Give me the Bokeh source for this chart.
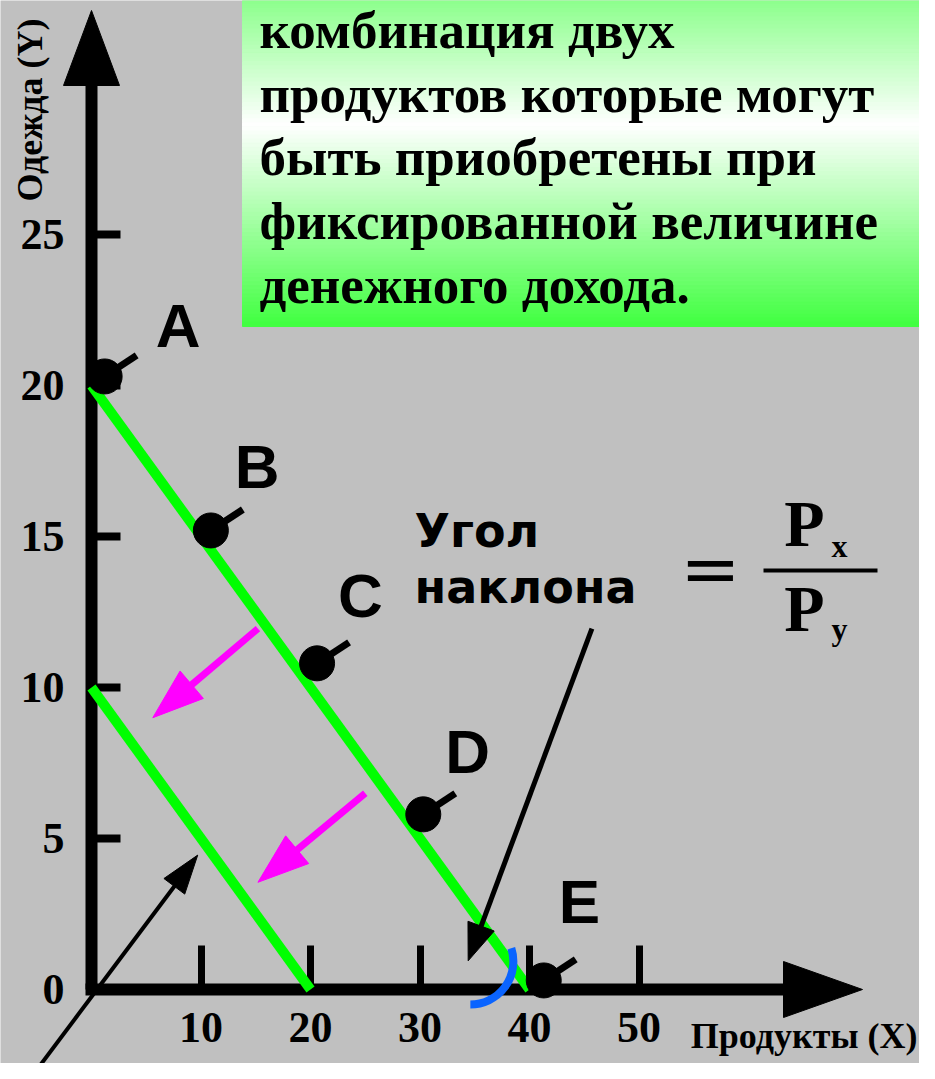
import math
from bokeh.plotting import figure
from bokeh.models import Range1d, LinearAxis, FixedTicker
from bokeh.core.properties import value
from bokeh.embed import file_html
from bokeh.resources import INLINE

# ---------------- data ----------------
budget_y_intercept = [20, 10]          # Одежда (Y) when whole income is spent on Y
budget_x_intercept = [40, 20]          # Продукты (X) when whole income is spent on X
point_labels = ["A", "B", "C", "D", "E"]
point_x = [1.2, 10.9, 20.6, 30.3, 41.3]
point_y = [20.3, 15.2, 10.8, 5.8, 0.3]
x_ticks = [10, 20, 30, 40, 50]
y_ticks = [0, 5, 10, 15, 20, 25]
x_title = "Продукты (X)"
y_title = "Одежда (Y)"
note_lines = ["комбинация двух", "продуктов которые могут",
              "быть приобретены при", "фиксированной величине",
              "денежного дохода."]
slope_lines = ["Угол", "наклона"]
# shift arrows of the budget line (start -> tip), data units
shift_x0 = [15.2, 25.0]
shift_y0 = [11.95, 6.5]
shift_x1 = [5.6, 15.2]
shift_y1 = [9.0, 3.55]
# income growth arrow and slope pointer (start -> tip), data units
growth_arrow = (-5.6, -2.95, 9.7, 4.45)
slope_arrow = (45.7, 11.95, 34.4, 0.95)
angle_mark = (34.6, 0.93)

# ---------------- layout helpers (reference page pixels) ----------------
W, H, OFF = 919, 1063, 0
X0, SX = 91.0, 10.95
Y0, SY = 989.0, 30.2
BL = 0.36   # baseline correction (fraction of the font size)


def to_dx(px):
    return (px - X0) / SX


def to_dy(py):
    return (Y0 - py) / SY


def to_px(x):
    return X0 + x * SX


def to_py(y):
    return Y0 - y * SY


def base_y(py, size):
    return to_dy(py - BL * size)


p = figure(width=W, height=H,
           x_range=Range1d(to_dx(OFF), to_dx(OFF + W)),
           y_range=Range1d(to_dy(OFF + H), to_dy(OFF)),
           output_backend="svg", toolbar_location=None, min_border=0,
           x_axis_type=None, y_axis_type=None)
p.background_fill_color = "#c0c0c0"
p.border_fill_color = "#c0c0c0"
p.outline_line_color = None
p.grid.visible = False

# ---------------- gradient note box ----------------
bl, br, bt, bb = 242, 931, 0, 326
stops = [(0, (140, 255, 140)), (125, (255, 255, 255)), (326, (64, 255, 64))]


def grad(py):
    for (a, ca), (b, cb) in zip(stops[:-1], stops[1:]):
        if a <= py <= b:
            t = (py - a) / (b - a)
            c = [round(ca[i] + (cb[i] - ca[i]) * t) for i in range(3)]
            return "#%02x%02x%02x" % tuple(c)
    return "#40ff40"


N = 80
hstep = (bb - bt) / N
tops = [to_dy(bt + i * hstep) for i in range(N)]
bots = [to_dy(bt + (i + 1) * hstep) for i in range(N)]
cols = [grad(bt + (i + 0.5) * hstep) for i in range(N)]
p.quad(left=[to_dx(bl)] * N, right=[to_dx(br)] * N, top=tops, bottom=bots,
       fill_color=cols, line_color=cols, line_width=1)

note_base = [49, 113, 176, 240, 304]
NS = 53
p.text(x=[to_dx(259)] * len(note_lines), y=[base_y(b, NS) for b in note_base],
       text=note_lines, text_font=value("Liberation Serif"),
       text_font_style="bold", text_font_size=f"{NS}px", text_color="black",
       text_align="left", text_baseline="alphabetic")

# ---------------- axes ----------------
label_font = dict(major_label_text_font="Liberation Serif",
                  major_label_text_font_style="bold",
                  major_label_text_font_size="44px",
                  major_label_text_color="black")
xaxis = LinearAxis(fixed_location=0, ticker=FixedTicker(ticks=x_ticks),
                   bounds=(to_dx(85), to_dx(785)),
                   axis_line_width=12, axis_line_color="black",
                   major_tick_in=44, major_tick_out=0, major_tick_line_width=7,
                   minor_tick_in=0, minor_tick_out=0,
                   major_label_standoff=23, level="underlay", **label_font)
yaxis = LinearAxis(fixed_location=0, ticker=FixedTicker(ticks=y_ticks),
                   bounds=(0, to_dy(84)),
                   axis_line_width=12, axis_line_color="black",
                   major_tick_in=29, major_tick_out=0, major_tick_line_width=8,
                   minor_tick_in=0, minor_tick_out=0,
                   major_label_standoff=27, level="underlay", **label_font)
p.add_layout(xaxis, "below")
p.add_layout(yaxis, "left")

# axis arrowheads
p.patches(xs=[[to_dx(91), to_dx(63), to_dx(119)], [to_dx(862), to_dx(783), to_dx(783)]],
          ys=[[to_dy(10), to_dy(85), to_dy(85)], [to_dy(989), to_dy(961), to_dy(1017)]],
          fill_color="black", line_color="black", line_width=1)

# axis titles
TS = 36
p.text(x=[to_dx(917)], y=[base_y(1048, TS)], text=[x_title],
       text_font=value("Liberation Serif"), text_font_style="bold",
       text_font_size=f"{TS}px", text_color="black", text_align="right",
       text_baseline="alphabetic")
p.text(x=[to_dx(42 - BL * TS)], y=[to_dy(201)], text=[y_title], angle=math.pi / 2,
       text_font=value("Liberation Serif"), text_font_style="bold",
       text_font_size=f"{TS}px", text_color="black", text_align="left",
       text_baseline="alphabetic")

# ---------------- budget lines ----------------
p.segment(x0=[0] * len(budget_y_intercept), y0=budget_y_intercept,
          x1=budget_x_intercept, y1=[0] * len(budget_x_intercept),
          line_color="#00ff00", line_width=10)


# ---------------- arrows ----------------
def arrow(x0, y0, x1, y1, color, lw, hl, hw):
    px0, py0, px1, py1 = to_px(x0), to_py(y0), to_px(x1), to_py(y1)
    L = math.hypot(px1 - px0, py1 - py0)
    ux, uy = (px1 - px0) / L, (py1 - py0) / L
    bx, by = px1 - ux * hl, py1 - uy * hl
    nx, ny = -uy, ux
    p.segment(x0=[x0], y0=[y0], x1=[to_dx(bx + ux * 2)], y1=[to_dy(by + uy * 2)],
              line_color=color, line_width=lw)
    p.patch(x=[x1, to_dx(bx + nx * hw), to_dx(bx - nx * hw)],
            y=[y1, to_dy(by + ny * hw), to_dy(by - ny * hw)],
            fill_color=color, line_color=color, line_width=1)


for a, b, c, d in zip(shift_x0, shift_y0, shift_x1, shift_y1):
    arrow(a, b, c, d, "#ff00ff", 7, 51, 18)
arrow(*growth_arrow, "black", 4, 39, 13)
arrow(*slope_arrow, "black", 5, 37, 14)

# slope angle mark
p.arc(x=[angle_mark[0]], y=[angle_mark[1]], radius=43, radius_units="screen",
      start_angle=-math.pi / 2, end_angle=0.31, direction="anticlock",
      line_color="#0a64ff", line_width=8)

# ---------------- consumption points ----------------
p.segment(x0=point_x, y0=point_y,
          x1=[x + 32 / SX for x in point_x], y1=[y + 21 / SY for y in point_y],
          line_color="black", line_width=7)
p.scatter(point_x, point_y, size=35, marker="circle",
          fill_color="black", line_color="black")
LS = 62
label_dx = [51, 24, 21, 22, 15]
label_dy = [-29, -42, -46, -41, -57]
p.text(x=point_x, y=point_y, text=point_labels, x_offset=label_dx,
       y_offset=[d - BL * LS for d in label_dy],
       text_font=value("Liberation Sans"), text_font_style="bold",
       text_font_size=f"{LS}px", text_color="black", text_align="left",
       text_baseline="alphabetic")

# ---------------- slope formula ----------------
SS = 46
p.text(x=[to_dx(414)] * 2, y=[base_y(547, SS), base_y(603, SS)], text=slope_lines,
       text_font=value("DejaVu Sans"), text_font_style="bold",
       text_font_size=f"{SS}px", text_color="black", text_align="left",
       text_baseline="alphabetic")
p.text(x=[to_dx(710)], y=[base_y(594, 72)], text=["="],
       text_font=value("DejaVu Serif"), text_font_size="72px",
       text_color="black", text_align="center", text_baseline="alphabetic")
p.segment(x0=[to_dx(763)], y0=[to_dy(570)], x1=[to_dx(877)], y1=[to_dy(570)],
          line_color="black", line_width=4)
PS = 66
p.text(x=[to_dx(804)] * 2, y=[base_y(547, PS), base_y(632, PS)], text=["P", "P"],
       text_font=value("Liberation Serif"), text_font_style="bold",
       text_font_size=f"{PS}px", text_color="black", text_align="center",
       text_baseline="alphabetic")
SBS = 32
p.text(x=[to_dx(831)] * 2, y=[base_y(557, SBS), base_y(640, SBS)], text=["x", "y"],
       text_font=value("Liberation Serif"), text_font_style="bold",
       text_font_size=f"{SBS}px", text_color="black", text_align="left",
       text_baseline="alphabetic")

open("out.html", "w").write(file_html(p, INLINE))
